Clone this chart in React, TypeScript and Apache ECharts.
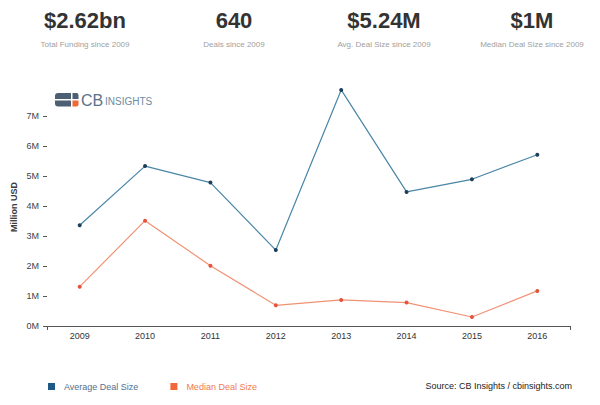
import React, { useEffect, useRef } from "react";
import * as echarts from "echarts";

const years = ["2009", "2010", "2011", "2012", "2013", "2014", "2015", "2016"];
const averageDealSize = [3.36, 5.33, 4.78, 2.53, 7.87, 4.47, 4.89, 5.71];
const medianDealSize = [1.31, 3.51, 2.01, 0.69, 0.87, 0.78, 0.3, 1.17];
const statValues = ["$2.62bn", "640", "$5.24M", "$1M"];
const statLabels = [
  "Total Funding since 2009",
  "Deals since 2009",
  "Avg. Deal Size since 2009",
  "Median Deal Size since 2009",
];
const statCenters = [85, 234, 384, 532];

const FONT = "'Liberation Sans', Arial, sans-serif";

export default function App() {
  const ref = useRef<HTMLDivElement>(null);
  useEffect(() => {
    if (!ref.current) return;
    const chart = echarts.init(ref.current, undefined, { renderer: "svg" });
    const statGraphics: any[] = [];
    statValues.forEach((v, i) => {
      statGraphics.push({
        type: "text",
        x: statCenters[i],
        y: 20,
        style: {
          text: v,
          fill: "#333",
          font: `bold 22px ${FONT}`,
          textAlign: "center",
          textVerticalAlign: "middle",
        },
      });
      statGraphics.push({
        type: "text",
        x: statCenters[i],
        y: 44,
        style: {
          text: statLabels[i],
          fill: "#a0a0a0",
          font: `8px ${FONT}`,
          textAlign: "center",
          textVerticalAlign: "middle",
        },
      });
    });

    chart.setOption({
      animation: false,
      backgroundColor: "#fff",
      textStyle: { fontFamily: FONT },
      grid: { left: 47, right: 30, top: 116, bottom: 79, containLabel: false },
      legend: {
        left: 43,
        top: 377,
        icon: "rect",
        itemWidth: 7,
        itemHeight: 7,
        itemGap: 32,
        textStyle: { fontSize: 9, fontFamily: FONT, padding: [0, 0, 0, 4] },
        data: [
          {
            name: "Average Deal Size",
            itemStyle: { color: "#1d5a86" },
            textStyle: { color: "#55718e" },
          },
          {
            name: "Median Deal Size",
            itemStyle: { color: "#f2683a" },
            textStyle: { color: "#ef7a55" },
          },
        ],
      },
      xAxis: [
        {
          type: "category",
          data: years,
          boundaryGap: true,
          axisLine: { lineStyle: { color: "#555", width: 1.2 } },
          axisTick: { alignWithLabel: true, length: 4, lineStyle: { color: "#555" } },
          axisLabel: { color: "#333", fontSize: 9, margin: 5, fontFamily: FONT },
        },
        {
          type: "value",
          position: "bottom",
          min: 0,
          max: 1,
          interval: 1,
          axisLine: { show: false },
          axisTick: { show: true, length: 4, lineStyle: { color: "#555" } },
          axisLabel: { show: false },
          splitLine: { show: false },
        },
      ],
      yAxis: {
        type: "value",
        min: 0,
        max: 7,
        interval: 1,
        axisLine: { show: false },
        axisTick: { show: true, length: 4, lineStyle: { color: "#555" } },
        axisLabel: {
          color: "#444",
          fontSize: 9,
          margin: 8,
          fontFamily: FONT,
          formatter: (v: number) => `${v}M`,
        },
        splitLine: { show: false },
      },
      series: [
        {
          name: "Average Deal Size",
          type: "line",
          data: averageDealSize,
          clip: false,
          symbol: "circle",
          symbolSize: 4,
          lineStyle: { color: "#4a86a6", width: 1.2 },
          itemStyle: { color: "#1d3f5e" },
        },
        {
          name: "Median Deal Size",
          type: "line",
          data: medianDealSize,
          clip: false,
          symbol: "circle",
          symbolSize: 4,
          lineStyle: { color: "#f09274", width: 1.2 },
          itemStyle: { color: "#e5543a" },
        },
      ],
      graphic: [
        ...statGraphics,
        {
          type: "text",
          x: 14,
          y: 207,
          rotation: Math.PI / 2,
          style: {
            text: "Million USD",
            fill: "#3a3a3a",
            font: `600 9px ${FONT}`,
            textAlign: "center",
            textVerticalAlign: "middle",
          },
        },
        {
          type: "text",
          right: 28,
          top: 381,
          style: {
            text: "Source: CB Insights / cbinsights.com",
            fill: "#222",
            font: `9px ${FONT}`,
          },
        },
        // CB Insights logo
        {
          type: "group",
          left: 55,
          top: 92,
          children: [
            { type: "rect", shape: { x: 0, y: 0, width: 16, height: 6, r: [3, 0, 0, 0] }, style: { fill: "#4d5f72" } },
            { type: "rect", shape: { x: 0, y: 7.5, width: 16, height: 6, r: [0, 0, 0, 3] }, style: { fill: "#4d5f72" } },
            { type: "rect", shape: { x: 17.5, y: 0, width: 6, height: 6, r: [0, 2, 0, 0] }, style: { fill: "#4d5f72" } },
            { type: "rect", shape: { x: 17.5, y: 7.5, width: 6, height: 6, r: [0, 0, 2, 0] }, style: { fill: "#ef6a35" } },
            {
              type: "text",
              x: 26,
              y: 7,
              style: { text: "CB", fill: "#5b7389", font: `16px ${FONT}`, textVerticalAlign: "middle" },
            },
            {
              type: "text",
              x: 50,
              y: 8,
              style: { text: "INSIGHTS", fill: "#6e8aa2", font: `10px ${FONT}`, textVerticalAlign: "middle" },
            },
          ],
        },
      ],
    });
    return () => chart.dispose();
  }, []);
  return <div ref={ref} style={{ width: 600, height: 405, position: "absolute", left: 0, top: 0 }} />;
}
